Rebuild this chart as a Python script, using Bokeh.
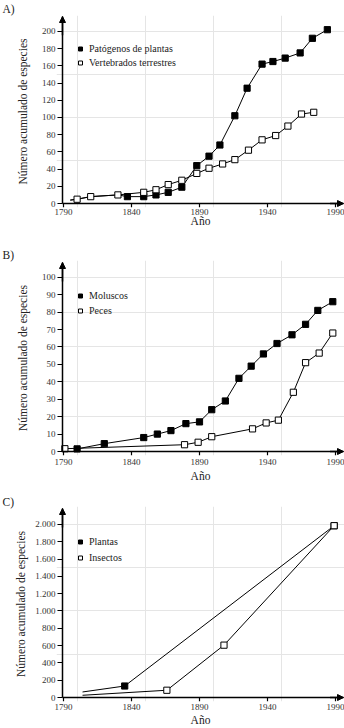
from bokeh.plotting import figure
from bokeh.layouts import column
from bokeh.models import (FixedTicker, Legend, LegendItem, Arrow, NormalHead,
                          Range1d, LinearAxis)
from bokeh.embed import file_html
from bokeh.resources import INLINE

# ---------------- data ----------------
x_ticks = [1790, 1840, 1890, 1940, 1990]

# Panel A
a_ticks = [0, 20, 40, 60, 80, 100, 120, 140, 160, 180, 200]
pat_lead_years = [1795, 1800, 1810, 1830]
pat_lead_vals = [4, 5, 8, 10]
pat_years = [1837, 1849, 1858, 1867, 1877, 1888, 1897, 1905, 1916, 1925, 1936,
             1944, 1953, 1964, 1973, 1984]
pat_vals = [8, 8, 10, 13, 19, 44, 55, 68, 102, 134, 162, 165, 169, 175, 192, 202]
vert_lead_years = [1795]
vert_lead_vals = [4]
vert_years = [1800, 1810, 1830, 1849, 1858, 1867, 1877, 1888, 1897, 1907, 1916,
              1926, 1936, 1946, 1955, 1965, 1974]
vert_vals = [5, 8, 10, 13, 16, 22, 27, 35, 41, 46, 51, 62, 74, 79, 90, 104, 106]

# Panel B
b_ticks = [0, 10, 20, 30, 40, 50, 60, 70, 80, 90, 100]
mol_years = [1800, 1820, 1849, 1859, 1869, 1880, 1890, 1899, 1909, 1919, 1928,
             1937, 1947, 1958, 1968, 1977, 1988]
mol_vals = [1.5, 4.5, 8, 10, 12, 16, 17, 24, 29, 42, 49, 56, 62, 67, 73, 81, 86]
pec_years = [1791, 1879, 1889, 1899, 1929, 1939, 1948, 1959, 1968, 1978, 1988]
pec_vals = [1.6, 3.9, 5.3, 8.5, 13, 16.4, 18, 34, 51, 56.5, 68]

# Panel C
c_ticks = [0, 200, 400, 600, 800, 1000, 1200, 1400, 1600, 1800, 2000]
c_tick_labels = ["0", "200", "400", "600", "800", "1.000", "1.200", "1.400",
                 "1.600", "1.800", "2.000"]
pla_lead_years = [1804]
pla_lead_vals = [64]
pla_years = [1835, 1989]
pla_vals = [133, 1985]
ins_lead_years = [1804]
ins_lead_vals = [26]
ins_years = [1866, 1908, 1989]
ins_vals = [84, 605, 1985]

SERIF = "Liberation Serif"
PX_PER_YEAR = 1.36
X_AXIS_AT = 1789.27          # where the vertical axis stands
X_TIP = 1995.9               # tip of the horizontal arrow
X0 = 1790 - 7 / PX_PER_YEAR  # frame a few px wider than the drawn axes
X1 = X0 + 288 / PX_PER_YEAR


def label_axis(ax, size):
    ax.axis_line_color = None
    ax.major_tick_line_color = None
    ax.minor_tick_line_color = None
    ax.major_tick_out = 0
    ax.major_tick_in = 0
    ax.major_label_text_font = SERIF
    ax.major_label_text_font_size = size
    ax.major_label_text_color = "#333333"
    ax.axis_label_text_font = SERIF
    ax.axis_label_text_font_size = "11.5px"
    ax.axis_label_text_font_style = "normal"
    ax.axis_label_text_color = "#222222"


def line_axis(ax, tick_len):
    ax.axis_line_width = 1.5
    ax.axis_line_color = "black"
    ax.major_tick_line_color = "black"
    ax.major_tick_line_width = 1.2
    ax.major_tick_in = tick_len
    ax.major_tick_out = 0
    ax.minor_tick_line_color = None
    ax.major_label_text_font_size = "0px"
    ax.major_label_text_alpha = 0
    ax.major_label_standoff = 0


def panel(letter, height, top, bottom, frame_h, px_per_unit, tip,
          yticks, ylabels, ylab_standoff, xlab_standoff, xaxis_standoff,
          title_standoff, series, leg_loc, leg_h, leg_sp):
    y0 = -4 / px_per_unit
    y1 = y0 + frame_h / px_per_unit
    p = figure(width=344, height=height, min_border_left=56, min_border_right=0,
               min_border_top=top, min_border_bottom=bottom,
               x_range=Range1d(X0, X1), y_range=Range1d(y0, y1),
               x_axis_location=None, y_axis_location=None,
               output_backend="svg", toolbar_location=None)
    p.outline_line_color = None
    p.background_fill_color = "white"
    p.title.text = letter
    p.title.align = "left"
    p.title.offset = -54
    p.title.standoff = title_standoff
    p.title.text_font = SERIF
    p.title.text_font_size = "11.5px"
    p.title.text_font_style = "normal"
    p.title.text_color = "#222222"

    # axes that only carry the texts, at the frame edges
    xl = LinearAxis(ticker=FixedTicker(ticks=x_ticks), axis_label="Año",
                    major_label_standoff=xlab_standoff,
                    axis_label_standoff=xaxis_standoff)
    label_axis(xl, "9px")
    p.add_layout(xl, "below")
    yl = LinearAxis(ticker=FixedTicker(ticks=yticks),
                    axis_label="Número acumulado de especies",
                    major_label_standoff=1, axis_label_standoff=ylab_standoff)
    label_axis(yl, "9px")
    if ylabels is not None:
        yl.major_label_overrides = {t: s for t, s in zip(yticks, ylabels)}
    p.add_layout(yl, "left")

    # axes that draw the lines and ticks where the data are 0 / 1790
    xa = LinearAxis(ticker=FixedTicker(ticks=x_ticks), fixed_location=0,
                    bounds=(X_AXIS_AT, X_TIP))
    line_axis(xa, 4)
    p.add_layout(xa, "above")
    ya = LinearAxis(ticker=FixedTicker(ticks=yticks), fixed_location=X_AXIS_AT,
                    bounds=(0, tip))
    line_axis(ya, 5)
    p.add_layout(ya, "right")

    head = dict(size=6, fill_color="black", line_color="black", line_width=1)
    p.add_layout(Arrow(end=NormalHead(**head), x_start=X_AXIS_AT,
                       y_start=tip * 0.9, x_end=X_AXIS_AT, y_end=tip,
                       line_color="black", line_width=1.5))
    p.add_layout(Arrow(end=NormalHead(**head), x_start=X_TIP - 10, y_start=0,
                       x_end=X_TIP, y_end=0, line_color="black", line_width=1.5))

    for (ly, lv, yrs, vals, filled, name) in series:
        p.line(ly + yrs, lv + vals, line_color="black", line_width=1)
    items = []
    for (ly, lv, yrs, vals, filled, name) in series:
        r = p.scatter(yrs, vals, marker="square", size=6.2,
                      fill_color="black" if filled else "white",
                      line_color="black", line_width=1)
        items.append(LegendItem(label=name, renderers=[r]))
    leg = Legend(items=items, location=leg_loc, glyph_width=10,
                 glyph_height=leg_h, label_height=leg_h, label_standoff=4,
                 spacing=leg_sp, padding=0, margin=0, border_line_color=None,
                 background_fill_alpha=0, label_text_font=SERIF,
                 label_text_font_size="10px", label_text_color="#222222")
    p.add_layout(leg)
    return p


pA = panel("A)", 235, 14, 28, 193, 0.865, 217.3, a_ticks, None, 10, 1, -3, 1,
           [(pat_lead_years, pat_lead_vals, pat_years, pat_vals, True,
             "Patógenos de plantas"),
            (vert_lead_years, vert_lead_vals, vert_years, vert_vals, False,
             "Vertebrados terrestres")],
           (19, 138), 13, 1)

pB = panel("B)", 249, 25, 29, 195, 1.742, 108.5, b_ticks, None, 10, 3, 2, 0,
           [([], [], mol_years, mol_vals, True, "Moluscos"),
            ([], [], pec_years, pec_vals, False, "Peces")],
           (19, 137), 15, 0)

pC = panel("C)", 244, 22, 26, 196, 0.087, 2183.9, c_ticks, c_tick_labels, 5,
           2, 1, -3,
           [(pla_lead_years, pla_lead_vals, pla_years, pla_vals, True, "Plantas"),
            (ins_lead_years, ins_lead_vals, ins_years, ins_vals, False, "Insectos")],
           (19, 136), 15, 1)

layout = column(pA, pB, pC, spacing=0)
open("out.html", "w").write(file_html(layout, INLINE))
